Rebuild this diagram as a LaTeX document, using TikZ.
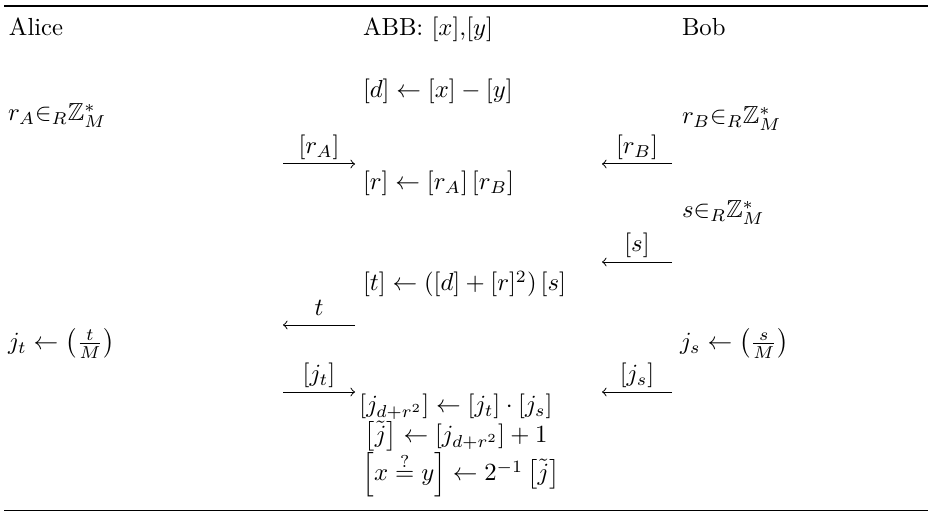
\documentclass[tikz,border=0pt]{standalone}
\usepackage{amsmath,amssymb}
\begin{document}
\begin{tikzpicture}[x=0.405pt,y=-0.405pt,
  txt/.style={inner sep=0pt,outer sep=0pt,anchor=base west},
  ctr/.style={inner sep=0pt,outer sep=0pt,anchor=base},
  msg/.style={->,line width=0.4pt},
  lbl/.style={inner sep=0pt,outer sep=0pt,anchor=base}]
\useasboundingbox (0,0) rectangle (928,512);
% rules
\coordinate (tl) at (4,6);
\coordinate (tr) at (928,6);
\coordinate (bl) at (4,510.5);
\coordinate (br) at (928,510.5);
\draw[line width=0.9pt] (tl) -- (tr);
\draw[line width=0.5pt] (bl) -- (br);
% header
\node[txt] (alice) at (9,36) {Alice};
\node[txt] (abb) at (363,36) {ABB: $[x]$,$[y]$};
\node[txt] (bob) at (682,36) {Bob};
% rows
\node[txt] (d) at (363,98) {$[d] \leftarrow [x] - [y]$};
\node[txt] (ra) at (8,121) {$r_A{\in}_R\mathbb{Z}_M^*$};
\node[txt] (rb) at (682,124) {$r_B{\in}_R\mathbb{Z}_M^*$};
% arrows r_A, r_B
\coordinate (a1s) at (283,164); \coordinate (a1e) at (355,164);
\draw[msg] (a1s) -- (a1e);
\node[lbl] (l1) at (319,154) {$[r_A]$};
\coordinate (b1s) at (672,164); \coordinate (b1e) at (602,164);
\draw[msg] (b1s) -- (b1e);
\node[lbl] (l2) at (637,154) {$[r_B]$};
\node[txt] (r) at (363,190) {$[r] \leftarrow [r_A]\,[r_B]$};
\node[txt] (s) at (682,218) {$s{\in}_R\mathbb{Z}_M^*$};
\coordinate (b2s) at (672,262); \coordinate (b2e) at (602,262);
\draw[msg] (b2s) -- (b2e);
\node[lbl] (l3) at (637,252) {$[s]$};
\node[txt] (t) at (363,291) {$[t] \leftarrow ([d] + [r]^2)\,[s]$};
\coordinate (a2s) at (355,325); \coordinate (a2e) at (283,325);
\draw[msg] (a2s) -- (a2e);
\node[lbl] (l4) at (319,316) {$t$};
\node[txt] (jt) at (8,350) {$j_t \leftarrow \left(\frac{t}{M}\right)$};
\node[txt] (js) at (680,350) {$j_s \leftarrow \left(\frac{s}{M}\right)$};
\coordinate (a3s) at (283,392); \coordinate (a3e) at (355,392);
\draw[msg] (a3s) -- (a3e);
\node[lbl] (l5) at (319,382) {$[j_t]$};
\coordinate (b3s) at (672,392); \coordinate (b3e) at (602,392);
\draw[msg] (b3s) -- (b3e);
\node[lbl] (l6) at (637,382) {$[j_s]$};
% final computations
\node[ctr] (f1) at (456,413) {$[j_{d+r^2}] \leftarrow [j_t]\cdot[j_s]$};
\node[ctr] (f2) at (456,443) {$\left[\tilde{j}\right] \leftarrow [j_{d+r^2}] + 1$};
\node[ctr] (f3) at (461,481) {$\left[x \stackrel{?}{=} y\right] \leftarrow 2^{-1}\left[\tilde{j}\right]$};
\end{tikzpicture}
\end{document}
